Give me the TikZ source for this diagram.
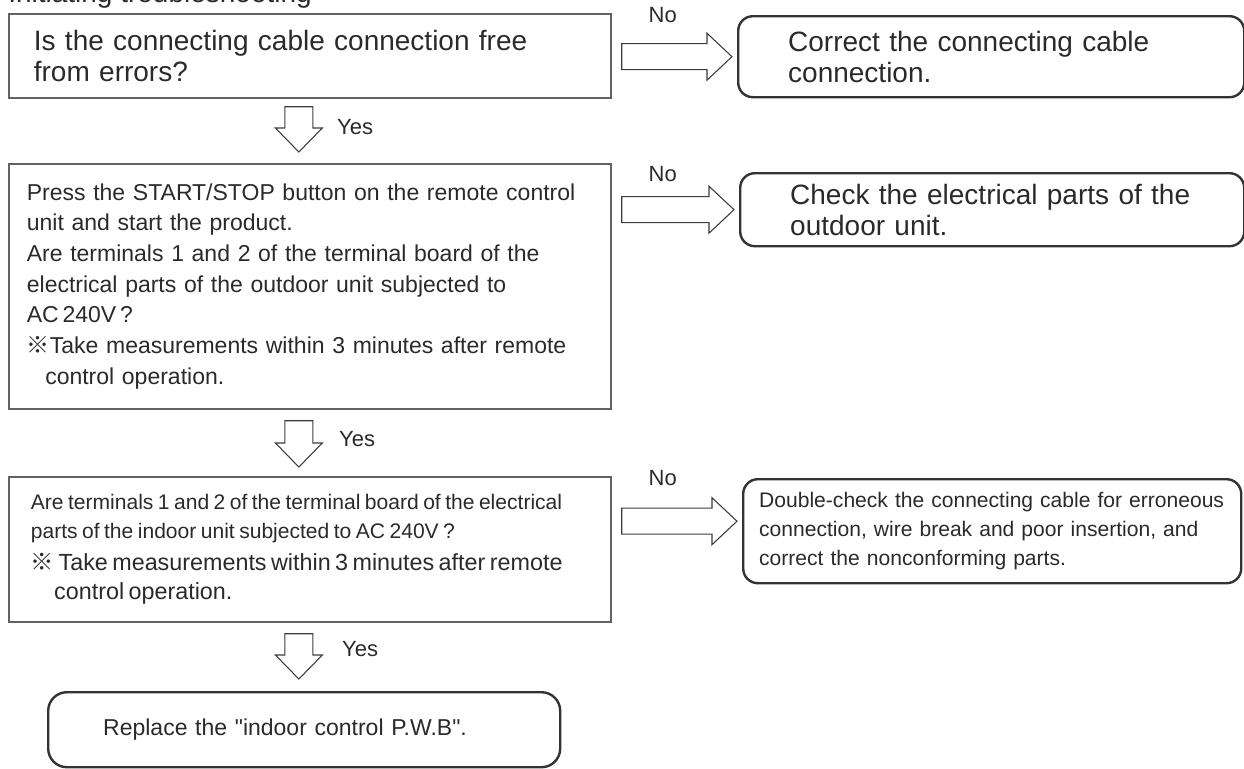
\documentclass[tikz,border=0pt]{standalone}
\usepackage{fontspec}
\setmainfont{Liberation Sans}
\newfontfamily\straight{Liberation Sans}
\newfontfamily\refmark{Noto Sans CJK JP}
\usetikzlibrary{calc,positioning}
\definecolor{Ink}{HTML}{2A2A2A}
\definecolor{Frame}{HTML}{626262}
\definecolor{FrameDark}{HTML}{333333}
\definecolor{ArrowLine}{HTML}{3C3C3C}

\newcommand{\bigtext}{\fontsize{21}{23.25}\selectfont}
\newcommand{\midtext}{\fontsize{17.25}{23}\selectfont}
\newcommand{\smalltext}{\fontsize{15.8}{21.5}\selectfont}

% hollow arrows: down from #1 to the height of #2, right from #1 to #2
\newcommand{\downblock}[2]{%
  \draw[blockarrow] let \p1=(#1), \p2=(#2) in
    (\x1-10.5pt,\y1) -- (\x1+10.5pt,\y1) -- (\x1+10.5pt,\y2+18pt)
    -- (\x1+17.6pt,\y2+18pt) -- (\x1,\y2) -- (\x1-17.6pt,\y2+18pt)
    -- (\x1-10.5pt,\y2+18pt) -- cycle;}
\newcommand{\rightblock}[2]{%
  \draw[blockarrow] let \p1=(#1), \p2=(#2) in
    (\x1,\y1+9.75pt) -- (\x2-18.75pt,\y1+9.75pt) -- (\x2-18.75pt,\y1+17.6pt)
    -- (\x2,\y1) -- (\x2-18.75pt,\y1-17.6pt) -- (\x2-18.75pt,\y1-9.75pt)
    -- (\x1,\y1-9.75pt) -- cycle;}

\tikzset{
  question/.style={draw=Frame,line width=1.3pt,anchor=north west,text=Ink,
    align=left,inner ysep=0pt,minimum width=451.5pt},
  action/.style={draw=FrameDark,line width=1.8pt,rounded corners=11pt,
    anchor=north west,text=Ink,align=left,inner ysep=0pt},
  blockarrow/.style={draw=ArrowLine,line width=0.8pt,fill=white,line join=miter},
  answer/.style={text=Ink,font=\fontsize{16.5}{18}\selectfont,inner sep=0pt},
}

\begin{document}
\begin{tikzpicture}[x=0.75pt,y=-0.75pt]
\useasboundingbox (0,0) rectangle (1244,768);

\node[anchor=base west,inner sep=0pt,text=Ink,font=\bigtext] (title) at (8,2) {Initiating troubleshooting};

\node[question,minimum height=63pt,inner xsep=18.75pt,text width=414pt,font=\bigtext] (q1) at (8,13)
  {Is the connecting cable connection free\\from errors?};
\node[question,minimum height=183.75pt,inner xsep=13.5pt,text width=424.5pt,font=\midtext] (q2) at (8,163)
  {Press the START/STOP button on the remote control\\
   unit and start the product.\\
   Are terminals 1 and 2 of the terminal board of the\\
   electrical parts of the outdoor unit subjected to\\
   AC\,240V\,?\\
   {\refmark ※}Take measurements within 3 minutes after remote\\
   \hspace*{0.8em}control operation.};
\node[question,minimum height=108.75pt,inner xsep=16.5pt,text width=418.5pt] (q3) at (8,476)
  {{\smalltext Are terminals 1 and 2 of the terminal board of the electrical\\
   parts of the indoor unit subjected to AC 240V ?\par}
   \vspace{2pt}
   {\fontsize{17.5}{22}\selectfont {\refmark ※} Take measurements within 3 minutes after remote\\
   \hspace*{1em}control operation.\par}};

\node[action,minimum width=379.5pt,minimum height=60.75pt,inner xsep=37.5pt,text width=304.5pt,font=\bigtext] (a1) at (737,15)
  {Correct the connecting cable\\connection.};
\node[action,minimum width=378pt,minimum height=54.75pt,inner xsep=37.5pt,text width=303pt,font=\bigtext] (a2) at (739,172)
  {Check the electrical parts of the\\outdoor unit.};
\node[action,minimum width=373.5pt,minimum height=78pt,inner xsep=12pt,text width=349.5pt,font=\smalltext] (a3) at (742,478)
  {Double-check the connecting cable for erroneous\\
   connection, wire break and poor insertion, and\\
   correct the nonconforming parts.};
\node[action,rounded corners=14pt,minimum width=384pt,minimum height=56.25pt,inner xsep=41.25pt,text width=301.5pt,font=\midtext\straight] (fin) at (47,691)
  {Replace the "indoor control P.W.B".};

\coordinate (n1s) at ($(q1.east |- a1.west)+(10,0)$);
\coordinate (n2s) at ($(q2.east |- a2.west)+(10,0)$);
\coordinate (n3s) at ($(q3.east |- a3.west)+(10,-10)$);
\rightblock{n1s}{$(a1.west)+(-5,0)$}
\rightblock{n2s}{$(a2.west)+(-5,0)$}
\rightblock{n3s}{$(a3.west)+(-5,-10)$}
\node[answer] (no1) at ($(n1s)+(41,-42)$) {No};
\node[answer] (no2) at ($(n2s)+(41,-36)$) {No};
\node[answer] (no3) at ($(n3s)+(41,-43)$) {No};

\coordinate (y1s) at ($(q1.south)+(-11,8)$);
\coordinate (y2s) at ($(q2.south)+(-11,11)$);
\coordinate (y3s) at ($(q3.south)+(-11,11)$);
\downblock{y1s}{$(q2.north)+(0,-11)$}
\downblock{y2s}{$(q3.north)+(0,-9)$}
\downblock{y3s}{$(fin.north)+(0,-12)$}
\node[answer,anchor=west] (yes1) at ($(y1s)+(38,20)$) {Yes};
\node[answer,anchor=west] (yes2) at ($(y2s)+(40,18)$) {Yes};
\node[answer,anchor=west] (yes3) at ($(y3s)+(43,15)$) {Yes};
\end{tikzpicture}
\end{document}
